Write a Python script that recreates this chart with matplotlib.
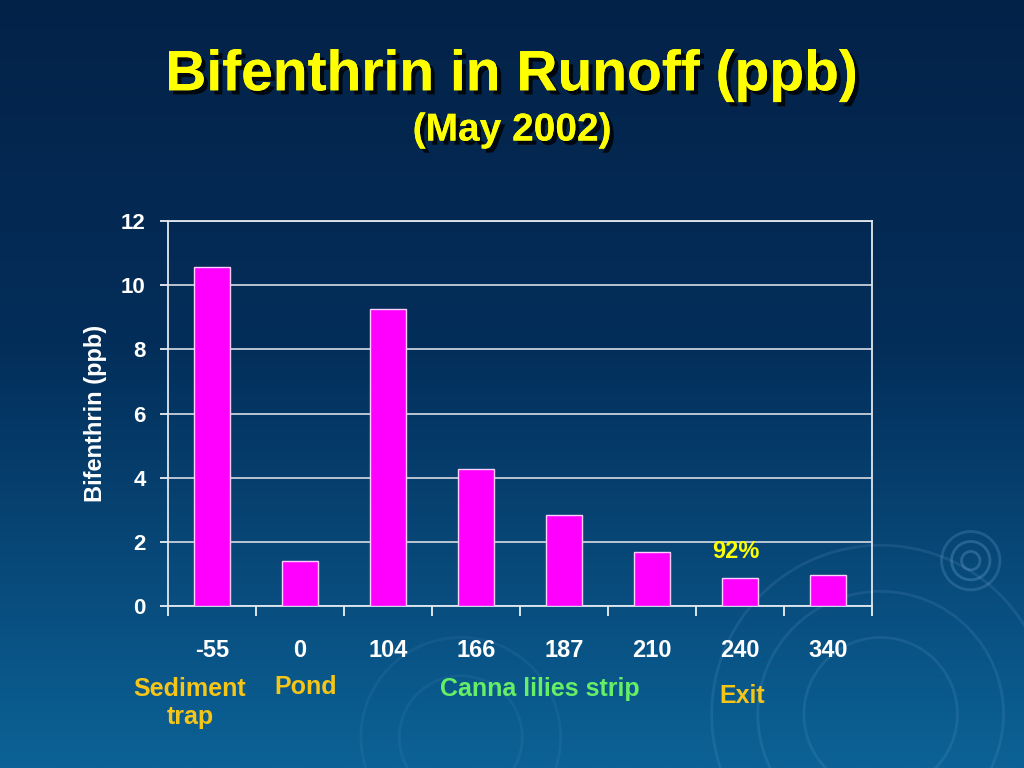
import numpy as np
import matplotlib
matplotlib.use("Agg")
import matplotlib.pyplot as plt
from matplotlib.patches import Ellipse
import matplotlib.patheffects as pe

categories = ["-55", "0", "104", "166", "187", "210", "240", "340"]
values = [10.58, 1.41, 9.27, 4.28, 2.85, 1.67, 0.87, 0.97]
y_ticks = [0, 2, 4, 6, 8, 10, 12]
annotation = "92%"
annotation_index = 6
annotation_value = 1.71
group_labels = ["Sediment\ntrap", "Pond", "Canna lilies strip", "Exit"]

plt.rcParams['font.family'] = ['Liberation Sans', 'DejaVu Sans']
plt.rcParams['font.weight'] = 'bold'

fig = plt.figure(figsize=(10.24, 7.68), dpi=100)

# background gradient
bg = fig.add_axes([0, 0, 1, 1], zorder=-10)
top = np.array([0x04, 0x22, 0x48]) / 255
mid = np.array([0x03, 0x2e, 0x5a]) / 255
bot = np.array([0x0c, 0x62, 0x96]) / 255
t = np.linspace(0, 1, 256)[:, None]
cols = np.where(t < 0.45, top + (mid - top) * (t / 0.45), mid + (bot - mid) * ((t - 0.45) / 0.55))
grad = np.repeat(cols[:, None, :], 2, axis=1)
bg.imshow(grad, aspect='auto', extent=[0, 1, 0, 1], origin='upper')
bg.set_xlim(0, 1)
bg.set_ylim(0, 1)
bg.axis('off')
# faint ripples
for (cx, cy, r, a) in [(0.86, 0.07, 0.10, 0.12), (0.86, 0.07, 0.16, 0.12), (0.86, 0.07, 0.22, 0.12),
                       (0.45, 0.04, 0.08, 0.08), (0.45, 0.04, 0.13, 0.08),
                       (0.948, 0.27, 0.012, 0.25), (0.948, 0.27, 0.025, 0.25), (0.948, 0.27, 0.038, 0.2)]:
    bg.add_patch(Ellipse((cx, cy), 2 * r * 0.75, 2 * r, fill=False,
                         edgecolor=(0.55, 0.75, 0.9, a), lw=2))

ax = fig.add_axes([0.164, 0.211, 0.688, 0.501])
ax.set_facecolor('none')
x = np.arange(len(categories))
ax.bar(x, values, width=0.41, color='#ff00ff', edgecolor='#ffd0ff', linewidth=1, zorder=3)
ax.set_xlim(-0.5, len(categories) - 0.5)
ax.set_ylim(0, 12)
ax.set_yticks(y_ticks)
ax.set_yticklabels([str(v) for v in y_ticks], color='white', fontsize=16, fontweight='bold')
ax.yaxis.grid(True, color='#c8d0dc', linewidth=1.3, zorder=0)
ax.set_axisbelow(True)
ax.set_xticks(np.arange(len(categories) + 1) - 0.5)
ax.set_xticklabels([])
ax.set_xticks(x, minor=True)
ax.set_xticklabels(categories, minor=True, color='white', fontsize=17, fontweight='bold')
ax.tick_params(axis='x', which='major', length=7, color='white', width=1.2, direction='out')
ax.tick_params(axis='x', which='minor', length=0, pad=24)
ax.tick_params(axis='y', length=6, color='white', width=1.2, pad=10)
for s in ax.spines.values():
    s.set_color('#e0e8f0')
    s.set_linewidth(1.3)
ax.set_ylabel("Bifenthrin (ppb)", color='white', fontsize=17, fontweight='bold', labelpad=10)

ax.text(annotation_index - 0.05, annotation_value, annotation, color='#ffff00', fontsize=17,
        fontweight='bold', ha='center', va='center')

shadow = [pe.withSimplePatchShadow(offset=(3, -3), shadow_rgbFace='black', alpha=0.8), pe.Normal()]
fig.text(0.5, 0.902, "Bifenthrin in Runoff (ppb)", color='#ffff00', fontsize=41,
         fontweight='bold', ha='center', va='center', path_effects=shadow)
fig.text(0.5, 0.83, "(May 2002)", color='#ffff00', fontsize=28,
         fontweight='bold', ha='center', va='center', path_effects=shadow)

fig.text(190 / 1024, 1 - 703 / 768, group_labels[0], color='#f5c518', fontsize=18,
         fontweight='bold', ha='center', va='center', linespacing=1.2)
fig.text(306 / 1024, 1 - 687 / 768, group_labels[1], color='#f5c518', fontsize=18,
         fontweight='bold', ha='center', va='center')
fig.text(540 / 1024, 1 - 689 / 768, group_labels[2], color='#66ee66', fontsize=18,
         fontweight='bold', ha='center', va='center')
fig.text(742 / 1024, 1 - 696 / 768, group_labels[3], color='#f5c518', fontsize=18,
         fontweight='bold', ha='center', va='center')

fig.savefig("out.png", dpi=100)
